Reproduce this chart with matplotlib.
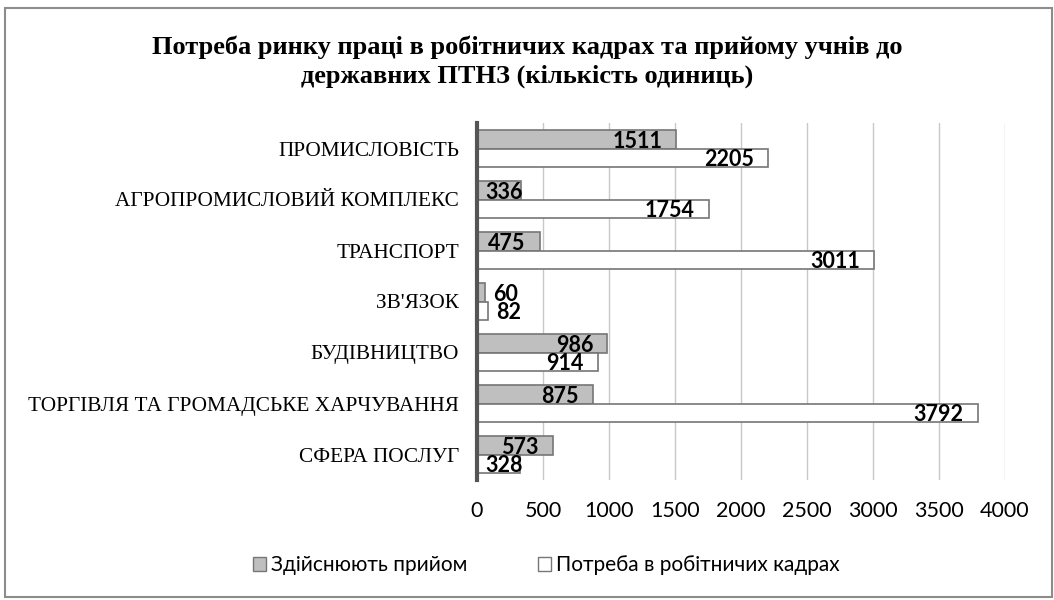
import matplotlib
matplotlib.use("Agg")
import matplotlib.pyplot as plt
from matplotlib.patches import Rectangle, Patch
from matplotlib.transforms import offset_copy

categories = ["ПРОМИСЛОВІСТЬ", "АГРОПРОМИСЛОВИЙ КОМПЛЕКС", "ТРАНСПОРТ", "ЗВ'ЯЗОК",
              "БУДІВНИЦТВО", "ТОРГІВЛЯ ТА ГРОМАДСЬКЕ ХАРЧУВАННЯ", "СФЕРА ПОСЛУГ"]
admission = [1511, 336, 475, 60, 986, 875, 573]
demand = [2205, 1754, 3011, 82, 914, 3792, 328]
series_names = ["Здійснюють прийом", "Потреба в робітничих кадрах"]
xticks = [0, 500, 1000, 1500, 2000, 2500, 3000, 3500, 4000]
title = "Потреба ринку праці в робітничих кадрах та прийому учнів до\nдержавних ПТНЗ (кількість одиниць)"

fig = plt.figure(figsize=(10.54, 6.0), dpi=100)
ax = fig.add_axes([477/1054, 1-480/600, (1005-477)/1054, (480-123)/600])

h = 0.37
ys = list(range(len(categories)))
gray_face, edge = "#BFBFBF", "#767676"
ax.barh([y - h/2 for y in ys], admission, height=h, color=gray_face, edgecolor=edge, linewidth=1.2, zorder=3)
ax.barh([y + h/2 for y in ys], demand, height=h, color="white", edgecolor=edge, linewidth=1.2, zorder=3)

ax.set_xlim(0, 4000)
ax.set_ylim(len(categories) - 0.5, -0.5)
ax.set_xticks(xticks)
ax.set_xticklabels([str(t) for t in xticks], fontfamily="Lato", fontsize=15.5)
ax.set_yticks(ys)
ax.set_yticklabels(categories, fontfamily="Liberation Serif", fontsize=15.3)
ax.tick_params(axis="both", length=0)
ax.tick_params(axis="x", pad=15)
ax.tick_params(axis="y", pad=13)
ax.grid(axis="x", color="#C8C8C8", linewidth=1.0, zorder=0)
for s in ["top", "right", "bottom"]:
    ax.spines[s].set_visible(False)
ax.spines["left"].set_color("#555555")
ax.spines["left"].set_linewidth(3)
ax.spines["left"].set_zorder(5)

def label(val, y):
    kw = dict(va="center", fontfamily="Lato", fontweight="bold", fontsize=15.5, zorder=6)
    if val < 150:
        tr = offset_copy(ax.transData, fig=fig, x=8, y=0, units="dots")
        ax.text(val, y, str(val), transform=tr, ha="left", **kw)
    elif val < 400:
        tr = offset_copy(ax.transData, fig=fig, x=8, y=0, units="dots")
        ax.text(0, y, str(val), transform=tr, ha="left", **kw)
    else:
        tr = offset_copy(ax.transData, fig=fig, x=-14, y=0, units="dots")
        ax.text(val, y, str(val), transform=tr, ha="right", **kw)

for y, v in zip(ys, admission):
    label(v, y - h/2 + 0.04)
for y, v in zip(ys, demand):
    label(v, y + h/2 + 0.04)

fig.text(527/1054, 1-62/600, title, ha="center", va="center", fontfamily="Liberation Serif",
         fontweight="bold", fontsize=19, linespacing=1.3)

handles = [Patch(facecolor=gray_face, edgecolor=edge), Patch(facecolor="white", edgecolor=edge)]
fig.legend(handles, series_names, loc="center", bbox_to_anchor=(546/1054, 1-565/600), ncol=2,
           frameon=False, prop={"family": "Lato", "size": 15}, handlelength=0.65, handleheight=0.65,
           handletextpad=0.2, columnspacing=3.4)

fig.patches.append(Rectangle((5/1054, 3/600), 1047/1054, 589/600, transform=fig.transFigure,
                             fill=False, edgecolor="#8C8C8C", linewidth=1.5))

fig.savefig("out.png", dpi=100, facecolor="white")
